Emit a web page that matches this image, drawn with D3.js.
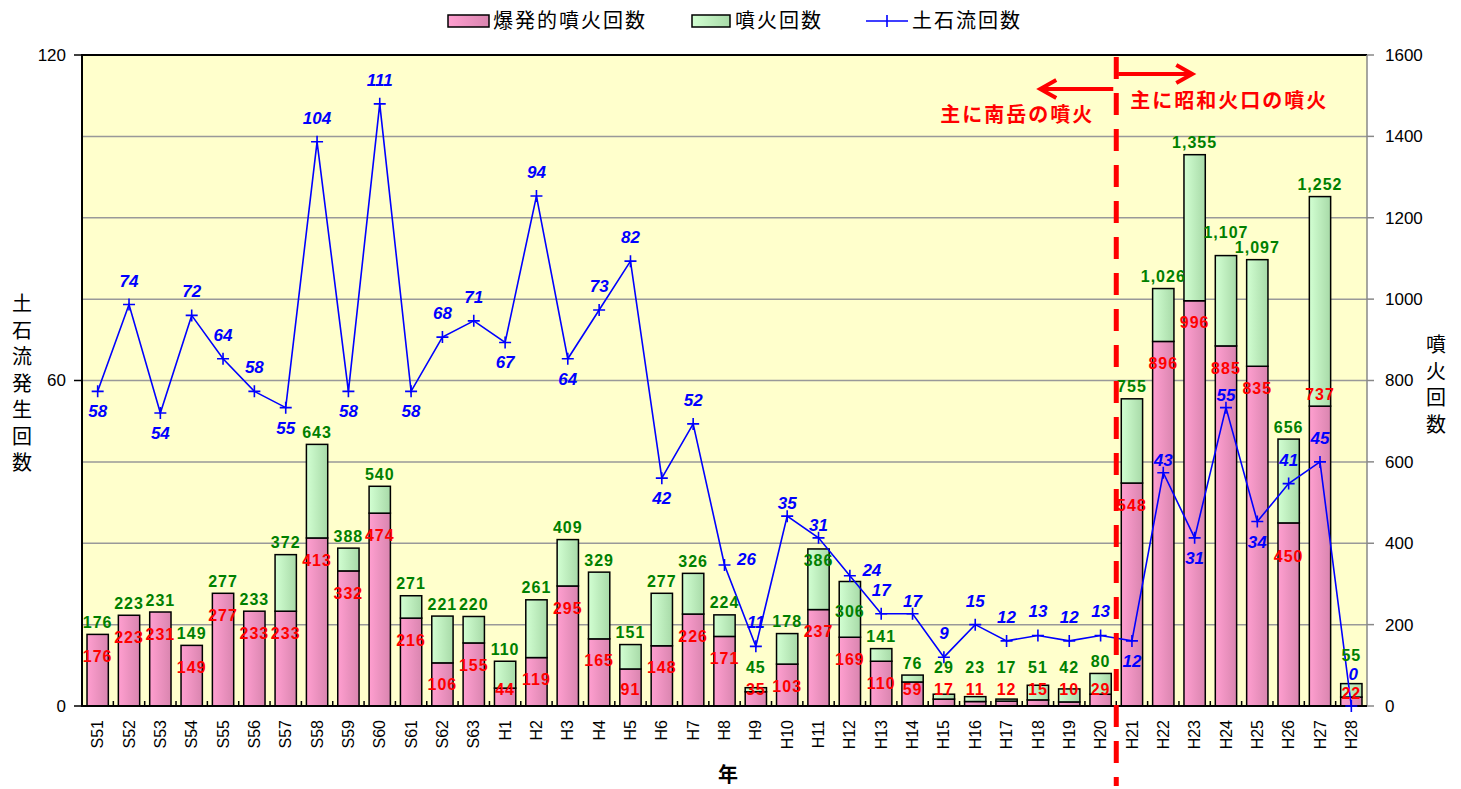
<!DOCTYPE html>
<html><head><meta charset="utf-8">
<script src="https://cdn.jsdelivr.net/npm/d3@7"></script>
<style>body{margin:0;background:#fff}svg{display:block}</style>
</head><body>
<svg id="c" width="1461" height="789"></svg>
<script>
// ---- data ----
const years = ["S51","S52","S53","S54","S55","S56","S57","S58","S59","S60","S61","S62","S63",
  "H1","H2","H3","H4","H5","H6","H7","H8","H9","H10","H11","H12","H13","H14","H15","H16","H17","H18","H19","H20",
  "H21","H22","H23","H24","H25","H26","H27","H28"];
const explosive = [176,223,231,149,277,233,233,413,332,474,216,106,155,44,119,295,165,91,148,226,171,35,103,237,169,110,59,17,11,12,15,10,29,548,896,996,885,835,450,737,22];
const eruptions = [176,223,231,149,277,233,372,643,388,540,271,221,220,110,261,409,329,151,277,326,224,45,178,386,306,141,76,29,23,17,51,42,80,755,1026,1355,1107,1097,656,1252,55];
const lahars = [58,74,54,72,64,58,55,104,58,111,58,68,71,67,94,64,73,82,42,52,26,11,35,31,24,17,17,9,15,12,13,12,13,12,43,31,55,34,41,45,0];
const leftTicks = [0,60,120];
const rightTicks = [0,200,400,600,800,1000,1200,1400,1600];
const legendLabels = ["爆発的噴火回数","噴火回数","土石流回数"];
const leftTitle = "土石流発生回数";
const rightTitle = "噴火回数";
const xTitle = "年";
const noteLeft = "主に南岳の噴火";
const noteRight = "主に昭和火口の噴火";
const splitYear = "H21";

// ---- label layout ----
// lahar line labels (a: above, b: below, r: right, n: close above, h: high above)
const laharLabelSide = ["b","a","b","a","a","a","b","a","b","a","b","a","a","b","a","b","a","a","b","a","r","a","n","n","r","a","n","a","a","a","a","a","a","b","n","b","n","b","a","a","h"];
// manual nudges of bar labels (g: total label, r: explosive label), in px
const nudge = {H11:{g:23}, H12:{g:42}, H24:{g:-11}, H26:{r:11}, H27:{r:-34}, H28:{g:-12, r:4}};

// ---- layout ----
const L = 82, R = 1367, T = 55, B = 706;
const svg = d3.select("#c");
const jp = "'Noto Sans CJK JP','Noto Sans',sans-serif";
const lat = "'Liberation Sans',Arial,sans-serif";

const x = d3.scaleBand().domain(years).range([L, R]).paddingInner(0.32).paddingOuter(0.16);
const yL = d3.scaleLinear().domain([0,120]).range([B, T]);
const yR = d3.scaleLinear().domain([0,1600]).range([B, T]);
const step = x.step();
const nd = (d, k) => (nudge[d] && nudge[d][k]) || 0;

const defs = svg.append("defs");
function grad(id, c1, c2){
  const g = defs.append("linearGradient").attr("id", id).attr("x1","0").attr("x2","1").attr("y1","0").attr("y2","0");
  g.append("stop").attr("offset","0").attr("stop-color", c1);
  g.append("stop").attr("offset","1").attr("stop-color", c2);
}
grad("gp", "#FF9FD0", "#D985AF");
grad("gg", "#D2FFD2", "#A8DAA8");

// plot background
svg.append("rect").attr("x", L).attr("y", T).attr("width", R-L).attr("height", B-T).attr("fill", "#FFFFCC");

// gridlines
svg.append("g").selectAll("line").data(rightTicks.filter(d => d>0 && d<1600)).join("line")
  .attr("x1", L).attr("x2", R).attr("y1", d => yR(d)).attr("y2", d => yR(d))
  .attr("stroke", "#999").attr("stroke-width", 1.5);

// bars
const bars = svg.append("g");
bars.selectAll("rect.p").data(years).join("rect").attr("class","p")
  .attr("x", d => x(d)).attr("width", x.bandwidth())
  .attr("y", (d,i) => yR(explosive[i])).attr("height", (d,i) => B - yR(explosive[i]))
  .attr("fill", "url(#gp)").attr("stroke", "#000").attr("stroke-width", 1.5);
bars.selectAll("rect.g").data(years.filter((d,i) => eruptions[i] > explosive[i])).join("rect").attr("class","g")
  .attr("x", d => x(d)).attr("width", x.bandwidth())
  .attr("y", d => yR(eruptions[years.indexOf(d)]))
  .attr("height", d => { const i = years.indexOf(d); return yR(explosive[i]) - yR(eruptions[i]); })
  .attr("fill", "url(#gg)").attr("stroke", "#000").attr("stroke-width", 1.5);

// axes lines
svg.append("line").attr("x1", L).attr("x2", R).attr("y1", T).attr("y2", T).attr("stroke", "#000").attr("stroke-width", 2);
svg.append("line").attr("x1", R).attr("x2", R).attr("y1", T).attr("y2", B).attr("stroke", "#888").attr("stroke-width", 1.5);
svg.append("line").attr("x1", L).attr("x2", L).attr("y1", T-1).attr("y2", B+1).attr("stroke", "#000").attr("stroke-width", 2);
svg.append("line").attr("x1", L).attr("x2", R).attr("y1", B).attr("y2", B).attr("stroke", "#000").attr("stroke-width", 2);

// x ticks (upward, at band boundaries)
svg.append("g").selectAll("line").data(d3.range(1, years.length)).join("line")
  .attr("x1", i => L + i*step).attr("x2", i => L + i*step).attr("y1", B).attr("y2", B-5)
  .attr("stroke", "#000").attr("stroke-width", 1.5);

// left axis ticks/labels
const gl = svg.append("g");
gl.selectAll("line").data(leftTicks).join("line")
  .attr("x1", L-8).attr("x2", L).attr("y1", d => yL(d)).attr("y2", d => yL(d)).attr("stroke","#000").attr("stroke-width",1.5);
gl.selectAll("text").data(leftTicks).join("text")
  .attr("x", L-16).attr("y", d => yL(d)).attr("dy","0.35em").attr("text-anchor","end")
  .attr("font-family", lat).attr("font-size", 17).text(d => d);

// right axis ticks/labels
const gr = svg.append("g");
gr.selectAll("line").data(rightTicks).join("line")
  .attr("x1", R).attr("x2", R+7).attr("y1", d => yR(d)).attr("y2", d => yR(d)).attr("stroke","#888").attr("stroke-width",1.5);
gr.selectAll("text").data(rightTicks).join("text")
  .attr("x", R+18).attr("y", d => yR(d)).attr("dy","0.35em").attr("text-anchor","start")
  .attr("font-family", lat).attr("font-size", 17).text(d => d);

// x labels
svg.append("g").selectAll("text").data(years).join("text")
  .attr("transform", d => `translate(${x(d)+x.bandwidth()/2},${B+14}) rotate(-90)`)
  .attr("dy","0.35em").attr("text-anchor","end")
  .attr("font-family", lat).attr("font-size", 16).text(d => d);

// lahar line
const pts = years.map((d,i) => [x(d)+x.bandwidth()/2, yL(lahars[i])]);
svg.append("path").attr("d", d3.line()(pts)).attr("fill","none").attr("stroke","#0000FF").attr("stroke-width",1.6);
svg.append("g").selectAll("path").data(pts).join("path")
  .attr("d", p => `M${p[0]-6},${p[1]}H${p[0]+6}M${p[0]},${p[1]-6}V${p[1]+6}`)
  .attr("stroke","#0000FF").attr("stroke-width",1.6);

// green labels (totals)
const fmt = d3.format(",");
svg.append("g").selectAll("text").data(years).join("text")
  .attr("x", d => x(d)+x.bandwidth()/2).attr("y", (d,i) => Math.min(yR(eruptions[i]) - 12, 667) + nd(d,"g")).attr("dy","0.35em")
  .attr("text-anchor","middle").attr("font-family", lat).attr("font-weight","bold").attr("font-size",16)
  .attr("letter-spacing", 1).attr("fill","#008000").text((d,i) => fmt(eruptions[i]));

// red labels (explosive)
svg.append("g").selectAll("text").data(years).join("text")
  .attr("x", d => x(d)+x.bandwidth()/2).attr("y", (d,i) => Math.min(yR(explosive[i]) + 22, 689) + nd(d,"r")).attr("dy","0.35em")
  .attr("text-anchor","middle").attr("font-family", lat).attr("font-weight","bold").attr("font-size",16)
  .attr("letter-spacing", 1).attr("fill","#FF0000").text((d,i) => fmt(explosive[i]));

// blue labels (lahars)
const off = {a:[0,-24], b:[0,20], r:[22,-6], n:[0,-13], h:[2,-32]};
svg.append("g").selectAll("text").data(years).join("text")
  .attr("x", (d,i) => pts[i][0] + off[laharLabelSide[i]][0])
  .attr("y", (d,i) => pts[i][1] + off[laharLabelSide[i]][1]).attr("dy","0.35em")
  .attr("text-anchor","middle").attr("font-family", lat).attr("font-weight","bold").attr("font-style","italic")
  .attr("font-size",17).attr("fill","#0000FF").text((d,i) => lahars[i]);

// split dashed line + arrows + notes
const sx = x(splitYear) - step*0.16;
svg.append("line").attr("x1", sx).attr("x2", sx).attr("y1", 57).attr("y2", 786)
  .attr("stroke","#FF0000").attr("stroke-width",5).attr("stroke-dasharray","22,14");
function arrow(x1, x2, y){
  const dir = Math.sign(x2 - x1);
  svg.append("path").attr("d", `M${x1},${y}H${x2}M${x2-dir*16},${y-9}L${x2},${y}L${x2-dir*16},${y+9}`)
    .attr("fill","none").attr("stroke","#FF0000").attr("stroke-width",4).attr("stroke-linejoin","miter");
}
arrow(sx-3, sx-76, 89);
arrow(sx+2, sx+76, 74);
svg.append("text").attr("x", sx-22).attr("y", 115).attr("dy","0.35em").attr("text-anchor","end")
  .attr("font-family", jp).attr("font-weight","bold").attr("font-size",20).attr("letter-spacing",2).attr("fill","#FF0000").text(noteLeft);
svg.append("text").attr("x", sx+14).attr("y", 101).attr("dy","0.35em").attr("text-anchor","start")
  .attr("font-family", jp).attr("font-weight","bold").attr("font-size",20).attr("letter-spacing",2).attr("fill","#FF0000").text(noteRight);

// axis titles
svg.append("g").selectAll("text").data(Array.from(leftTitle)).join("text")
  .attr("x", 22).attr("y", (d,i) => 304 + i*26.5).attr("dy","0.35em").attr("text-anchor","middle")
  .attr("font-family", jp).attr("font-size",20).text(d => d);
svg.append("g").selectAll("text").data(Array.from(rightTitle)).join("text")
  .attr("x", 1436).attr("y", (d,i) => 345 + i*26.5).attr("dy","0.35em").attr("text-anchor","middle")
  .attr("font-family", jp).attr("font-size",20).text(d => d);
svg.append("text").attr("x", 728).attr("y", 775).attr("dy","0.35em").attr("text-anchor","middle")
  .attr("font-family", jp).attr("font-weight","bold").attr("font-size",20).text(xTitle);

// legend
const lg = svg.append("g");
lg.append("rect").attr("x",448).attr("y",15).attr("width",41).attr("height",12).attr("fill","url(#gp)").attr("stroke","#000").attr("stroke-width",1.5);
lg.append("text").attr("x",493).attr("y",21).attr("dy","0.35em").attr("font-family",jp).attr("font-size",20).attr("letter-spacing",2).text(legendLabels[0]);
lg.append("rect").attr("x",692).attr("y",15).attr("width",38).attr("height",12).attr("fill","url(#gg)").attr("stroke","#000").attr("stroke-width",1.5);
lg.append("text").attr("x",735).attr("y",21).attr("dy","0.35em").attr("font-family",jp).attr("font-size",20).attr("letter-spacing",2).text(legendLabels[1]);
lg.append("path").attr("d","M866,21H908M887,15V27").attr("stroke","#0000FF").attr("stroke-width",1.6);
lg.append("text").attr("x",912).attr("y",21).attr("dy","0.35em").attr("font-family",jp).attr("font-size",20).attr("letter-spacing",2).text(legendLabels[2]);
</script>
</body></html>
